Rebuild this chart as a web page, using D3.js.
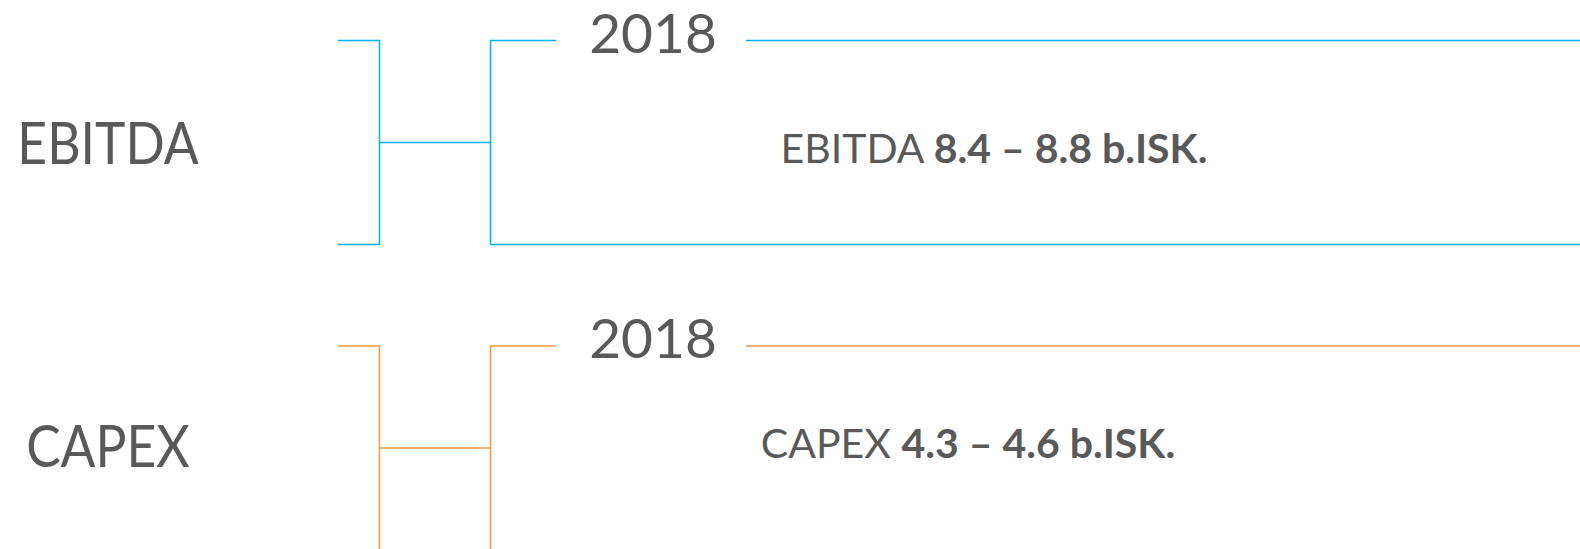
<!DOCTYPE html>
<html>
<head>
<meta charset="utf-8">
<script src="https://cdn.jsdelivr.net/npm/d3@7"></script>
<style>
  html, body { margin: 0; padding: 0; background: #fff; }
  svg { display: block; }
</style>
</head>
<body>
<div id="chart"></div>
<script>
// guidance rows
var metrics = ["EBITDA", "CAPEX"];
var years = ["2018", "2018"];
var lowValues = [8.4, 4.3];
var highValues = [8.8, 4.6];
var unitLabel = "b.ISK.";
var rowColors = ["#00b0f0", "#f79646"];

var width = 1580, height = 549;
var textColor = "#595959";
var font = "Lato, 'Open Sans', sans-serif";

var canvas = d3.select("#chart")
    .append("svg")
    .attr("width", width)
    .attr("height", height);

// top of each bracket
var y = d3.scaleLinear().domain([0, 1]).range([40.5, 346]);
var bracketH = 204;

// x positions of the bracket parts
var x = d3.scaleOrdinal()
    .domain(["outerL", "outerR", "innerL", "gapL", "gapR", "end"])
    .range([338, 379.5, 490.5, 556, 746, width]);

var rows = canvas.selectAll("g.row")
    .data(metrics)
    .enter()
        .append("g")
        .attr("class", "row")
        .attr("transform", function(d, i){ return "translate(0," + y(i) + ")"; });

var lines = rows.append("g")
    .attr("fill", "none")
    .attr("stroke", function(d, i){ return rowColors[i]; })
    .attr("stroke-width", 1.5);

// left bracket
lines.append("path")
    .attr("d", "M" + x("outerL") + ",0H" + x("outerR") + "V" + bracketH + "H" + x("outerL"));
// connector
lines.append("path")
    .attr("d", "M" + x("outerR") + "," + bracketH / 2 + "H" + x("innerL"));
// right box, open on the right, with gap for the year
lines.append("path")
    .attr("d", "M" + x("gapL") + ",0H" + x("innerL") + "V" + bracketH + "H" + x("end"));
lines.append("path")
    .attr("d", "M" + x("gapR") + ",0H" + x("end"));

// metric name on the left (squeezed a bit, the original font is narrower)
rows.append("text")
    .attr("transform", function(d, i){
        return "translate(108," + (bracketH / 2 + (i === 0 ? 21 : 19)) + ") scale(0.89,1)";
    })
    .attr("text-anchor", "middle")
    .attr("font-family", font)
    .attr("font-size", "58px")
    .attr("fill", textColor)
    .text(function(d){ return d; });

// year in the gap
rows.append("text")
    .attr("x", (x("gapL") + x("gapR")) / 2 + 2)
    .attr("y", 12)
    .attr("text-anchor", "middle")
    .attr("font-family", font)
    .attr("font-size", "55px")
    .attr("fill", textColor)
    .text(function(d, i){ return years[i]; });

// guidance range
var guide = rows.append("text")
    .attr("x", function(d, i){ return i === 0 ? 994 : 968; })
    .attr("y", function(d, i){ return bracketH / 2 + (i === 0 ? 20 : 10); })
    .attr("text-anchor", "middle")
    .attr("font-family", font)
    .attr("font-size", "41px")
    .attr("fill", textColor);
guide.append("tspan")
    .text(function(d){ return d + " "; });
guide.append("tspan")
    .attr("font-weight", "bold")
    .text(function(d, i){ return d3.format(".1f")(lowValues[i]) + " \u2013 " + d3.format(".1f")(highValues[i]) + " " + unitLabel; });
</script>
</body>
</html>
